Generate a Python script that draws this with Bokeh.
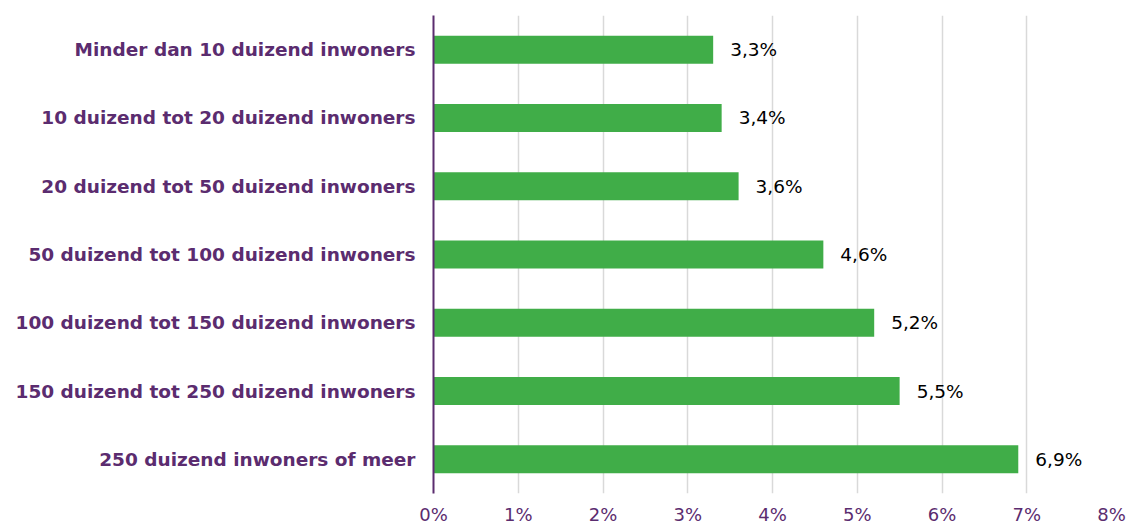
from bokeh.plotting import figure
from bokeh.models import ColumnDataSource, FixedTicker, CustomJSTickFormatter, Range1d
from bokeh.embed import file_html
from bokeh.resources import INLINE
from bokeh.core.properties import value

categories = [
    "Minder dan 10 duizend inwoners",
    "10 duizend tot 20 duizend inwoners",
    "20 duizend tot 50 duizend inwoners",
    "50 duizend tot 100 duizend inwoners",
    "100 duizend tot 150 duizend inwoners",
    "150 duizend tot 250 duizend inwoners",
    "250 duizend inwoners of meer",
]
values = [3.3, 3.4, 3.6, 4.6, 5.2, 5.5, 6.9]
value_labels = ["3,3%", "3,4%", "3,6%", "4,6%", "5,2%", "5,5%", "6,9%"]
x_ticks = [0, 1, 2, 3, 4, 5, 6, 7, 8]

PURPLE = "#5B2C6F"
GREEN = "#40AD48"

src = ColumnDataSource(dict(cat=categories, val=values, lab=value_labels))

p = figure(
    width=1127, height=527,
    y_range=list(reversed(categories)),
    x_range=Range1d(0, 8),
    output_backend="svg", toolbar_location=None,
    min_border_left=433, min_border_right=16, min_border_top=15, min_border_bottom=32,
)
p.outline_line_color = None
p.background_fill_color = "white"
p.border_fill_color = "white"

p.hbar(y="cat", right="val", left=0, height=0.41, source=src,
       fill_color=GREEN, line_color=None)

p.text(x="val", y="cat", text="lab", source=src,
       x_offset=17, text_align="left", text_baseline="middle",
       text_font=value("DejaVu Sans"), text_font_size="18.5px", text_color="#000000")

# x axis
p.xaxis.ticker = FixedTicker(ticks=x_ticks)
p.xaxis.formatter = CustomJSTickFormatter(code="return tick + '%';")
p.xaxis.axis_line_color = None
p.xaxis.major_tick_line_color = None
p.xaxis.minor_tick_line_color = None
p.xaxis.major_tick_out = 0
p.xaxis.major_tick_in = 0
p.xaxis.minor_tick_out = 0
p.xaxis.major_label_text_color = PURPLE
p.xaxis.major_label_text_font = "DejaVu Sans"
p.xaxis.major_label_text_font_size = "18px"
p.xaxis.major_label_standoff = 10

# y axis
p.yaxis.axis_line_color = PURPLE
p.yaxis.axis_line_width = 2
p.yaxis.major_tick_line_color = None
p.yaxis.minor_tick_line_color = None
p.yaxis.major_tick_out = 0
p.yaxis.major_tick_in = 0
p.yaxis.minor_tick_out = 0
p.yaxis.major_label_text_color = PURPLE
p.yaxis.major_label_text_font = "DejaVu Sans"
p.yaxis.major_label_text_font_style = "bold"
p.yaxis.major_label_text_font_size = "18.5px"
p.yaxis.major_label_standoff = 18

p.ygrid.grid_line_color = None
p.xgrid.grid_line_color = "#D9D9D9"
p.xgrid.grid_line_width = 1.5

open("out.html", "w").write(file_html(p, INLINE))
